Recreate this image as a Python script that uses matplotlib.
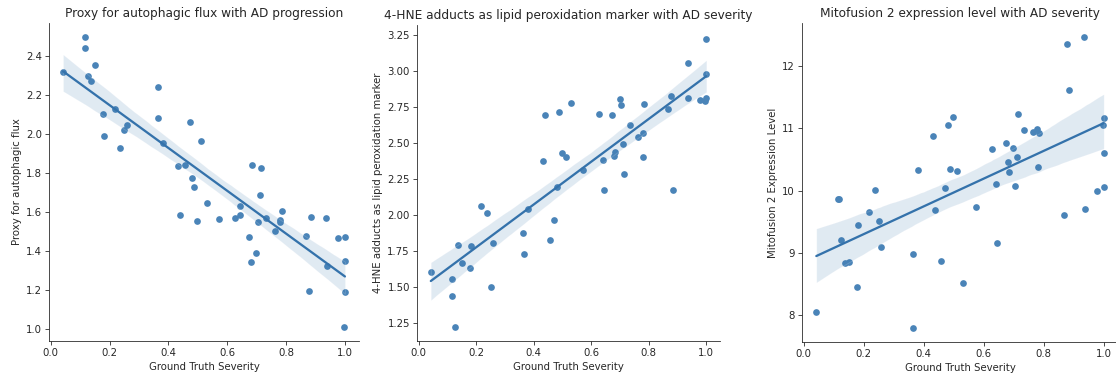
import matplotlib
matplotlib.use("Agg")
import matplotlib.pyplot as plt
import numpy as np
import seaborn as sns

sns.set_style("ticks")

severity = [0.042, 0.115, 0.117, 0.125, 0.136, 0.151, 0.178, 0.182, 0.217, 0.236,
            0.250, 0.259, 0.364, 0.366, 0.380, 0.431, 0.439, 0.458, 0.472, 0.480,
            0.487, 0.498, 0.512, 0.530, 0.573, 0.628, 0.642, 0.645, 0.673, 0.680,
            0.684, 0.699, 0.703, 0.710, 0.715, 0.733, 0.763, 0.779, 0.781, 0.785,
            0.867, 0.877, 0.884, 0.936, 0.938, 0.977, 0.997, 1.0, 1.0, 1.0]

autophagy = [2.320, 2.497, 2.443, 2.297, 2.271, 2.355, 2.102, 1.990, 2.130, 1.930,
             2.021, 2.047, 2.243, 2.083, 1.957, 1.837, 1.587, 1.840, 2.062, 1.775,
             1.728, 1.553, 1.966, 1.649, 1.565, 1.572, 1.629, 1.587, 1.472, 1.341,
             1.844, 1.391, 1.549, 1.687, 1.828, 1.568, 1.505, 1.561, 1.549, 1.603,
             1.475, 1.196, 1.575, 1.567, 1.322, 1.465, 1.012, 1.472, 1.350, 1.191]

hne = [1.605, 1.559, 1.440, 1.227, 1.796, 1.668, 1.631, 1.787, 2.065, 2.019,
       1.499, 1.807, 1.879, 1.731, 2.042, 2.379, 2.695, 1.828, 1.968, 2.195,
       2.716, 2.432, 2.407, 2.783, 2.312, 2.702, 2.386, 2.174, 2.695, 2.414,
       2.442, 2.809, 2.765, 2.495, 2.288, 2.627, 2.546, 2.569, 2.407, 2.771,
       2.737, 2.830, 2.174, 3.057, 2.818, 2.804, 2.795, 2.978, 3.222, 2.818]

mfn2 = [8.054, 9.861, 9.861, 9.201, 8.842, 8.858, 8.445, 9.442, 9.657, 10.011,
        9.517, 9.094, 7.800, 8.976, 10.332, 10.879, 9.684, 8.863, 10.043, 11.056,
        10.343, 11.190, 10.311, 8.515, 9.732, 10.670, 10.107, 9.158, 10.767, 10.456,
        10.306, 10.686, 10.070, 10.536, 11.228, 10.970, 10.949, 10.987, 10.386, 10.922,
        9.614, 12.359, 11.614, 12.461, 9.700, 9.989, 11.056, 11.163, 10.601, 10.059]

titles = ["Proxy for autophagic flux with AD progression",
          "4-HNE adducts as lipid peroxidation marker with AD severity",
          "Mitofusion 2 expression level with AD severity"]
ylabels = ["Proxy for autophagic flux",
           "4-HNE adducts as lipid peroxidation marker",
           "Mitofusion 2 Expression Level"]

dpi = 73
fig = plt.figure(figsize=(1116 / dpi, 377 / dpi), dpi=dpi)
boxes = [[0.0439, 0.0955, 0.2778, 0.8435],
         [0.3737, 0.0955, 0.2715, 0.8382],
         [0.7186, 0.0928, 0.2832, 0.8462]]

for box, y, title, ylabel in zip(boxes, [autophagy, hne, mfn2], titles, ylabels):
    ax = fig.add_axes(box)
    sns.regplot(x=np.array(severity), y=np.array(y), ax=ax, color="#3472ab", seed=3,
                scatter_kws={"color": "#4a84b8", "alpha": 1, "s": 44, "linewidths": 0})
    ax.set_title(title)
    ax.set_xlabel("Ground Truth Severity")
    ax.set_ylabel(ylabel)
    sns.despine(ax=ax)

fig.savefig("out.png", dpi=dpi)
